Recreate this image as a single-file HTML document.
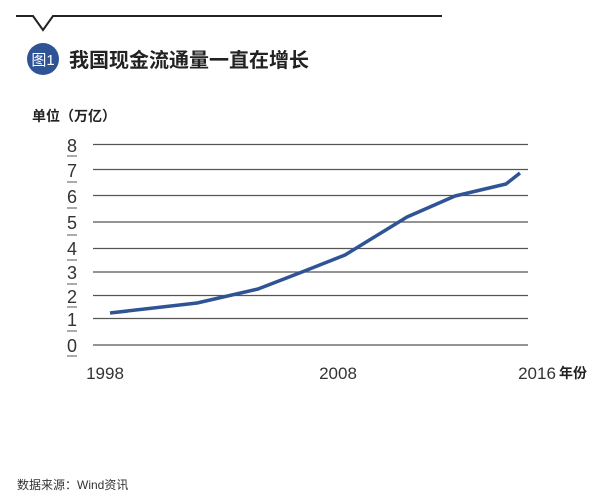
<!DOCTYPE html>
<html><head><meta charset="utf-8"><style>
body{margin:0;width:606px;height:499px;background:#fff;overflow:hidden;font-family:"Liberation Sans","Noto Sans CJK SC",sans-serif}
</style></head><body>
<svg width="606" height="499" xmlns="http://www.w3.org/2000/svg" style="position:absolute;left:0;top:0">
<polyline points="16,16 33,16 43,30 53,16 442,16" fill="none" stroke="#222" stroke-width="2"/>
<circle cx="43" cy="59" r="16" fill="#2f5496"/>
<text x="43" y="65" font-size="15" fill="#fff" text-anchor="middle" font-family="Liberation Sans,Noto Sans CJK SC,sans-serif">图1</text>
<text x="69" y="67" font-size="20" font-weight="bold" fill="#222" font-family="Liberation Sans,Noto Sans CJK SC,sans-serif">我国现金流通量一直在增长</text>
<text x="32" y="121" font-size="14" font-weight="bold" fill="#222" font-family="Liberation Sans,Noto Sans CJK SC,sans-serif">单位（万亿）</text>
<g stroke="#555" stroke-width="1.3">
<line x1="93" y1="144.5" x2="528" y2="144.5"/><line x1="93" y1="169.5" x2="528" y2="169.5"/>
<line x1="93" y1="195.5" x2="528" y2="195.5"/><line x1="93" y1="222" x2="528" y2="222"/>
<line x1="93" y1="248.5" x2="528" y2="248.5"/><line x1="93" y1="272" x2="528" y2="272"/>
<line x1="93" y1="295.5" x2="528" y2="295.5"/><line x1="93" y1="318.5" x2="528" y2="318.5"/>
<line x1="93" y1="345" x2="528" y2="345"/>
</g>
<g stroke="#555" stroke-width="1"><line x1="67" y1="156" x2="77" y2="156"/><line x1="67" y1="182" x2="77" y2="182"/><line x1="67" y1="208" x2="77" y2="208"/><line x1="67" y1="235" x2="77" y2="235"/><line x1="67" y1="260" x2="77" y2="260"/><line x1="67" y1="284" x2="77" y2="284"/><line x1="67" y1="307" x2="77" y2="307"/><line x1="67" y1="331" x2="77" y2="331"/><line x1="67" y1="356" x2="77" y2="356"/></g>
<g font-size="18" fill="#333" text-anchor="middle">
<text x="72" y="152">8</text><text x="72" y="177">7</text><text x="72" y="203">6</text><text x="72" y="229">5</text><text x="72" y="255">4</text><text x="72" y="279">3</text><text x="72" y="303">2</text><text x="72" y="326">1</text><text x="72" y="352">0</text>
</g>
<polyline points="110,313 197,303 258,289 302,272 345,255 407,217 455,196 506,184 520,173" fill="none" stroke="#2f5496" stroke-width="3.5" stroke-linejoin="round"/>
<g font-size="17" fill="#333" text-anchor="middle"><text x="105" y="379">1998</text><text x="338" y="379">2008</text><text x="537" y="379">2016</text></g>
<text x="559" y="378" font-size="14" font-weight="bold" fill="#222" font-family="Liberation Sans,Noto Sans CJK SC,sans-serif">年份</text>
<text x="17" y="489" font-size="12" fill="#333" font-family="Liberation Sans,Noto Sans CJK SC,sans-serif">数据来源：Wind资讯</text>
</svg>
</body></html>
